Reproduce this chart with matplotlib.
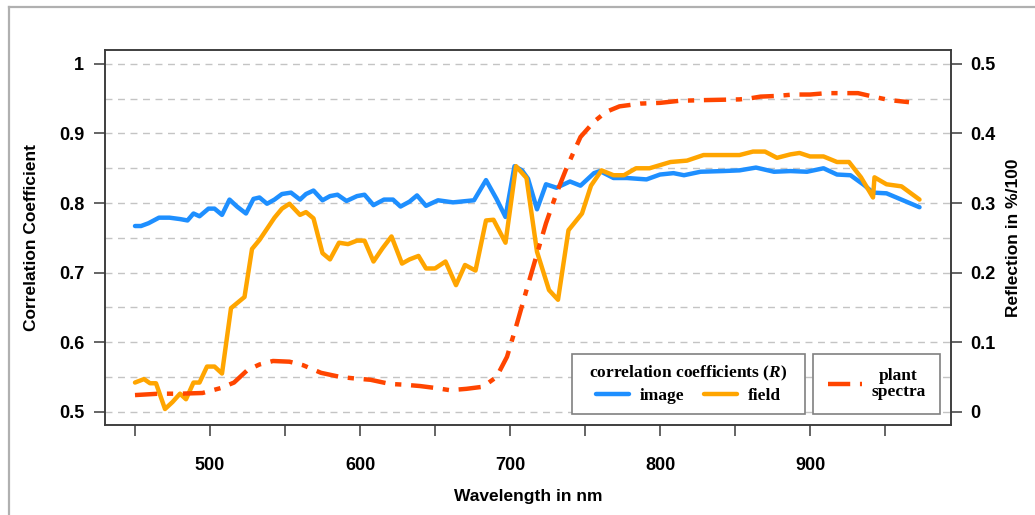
import matplotlib
matplotlib.use("Agg")
import matplotlib.pyplot as plt
import numpy as np
from matplotlib.lines import Line2D
from matplotlib.patches import Rectangle

plt.rcParams['font.family'] = ['Liberation Sans', 'DejaVu Sans']
plt.rcParams['mathtext.fontset'] = 'custom'
plt.rcParams['mathtext.it'] = 'Liberation Serif:italic:bold'
plt.rcParams['mathtext.rm'] = 'Liberation Serif:bold'
plt.rcParams['lines.scale_dashes'] = False

# correlation coefficient, image based
wl_image = [450, 454, 459, 466, 473, 480, 485, 489, 493, 499, 503, 508, 513, 518, 524,
            529, 533, 538, 543, 548, 554, 560, 564, 569, 575, 580, 585, 591, 598, 603,
            609, 616, 622, 627, 633, 638, 644, 652, 662, 676, 684, 691, 697, 703, 708,
            712, 718, 724, 731, 740, 747, 756, 760, 769, 778, 791, 800, 809, 816, 827,
            842, 853, 864, 876, 887, 898, 909, 918, 927, 936, 942, 951, 962, 973]
r_image = [0.767, 0.767, 0.771, 0.779, 0.779, 0.777, 0.775, 0.785, 0.781, 0.792, 0.792,
           0.783, 0.805, 0.795, 0.785, 0.806, 0.808, 0.799, 0.805, 0.813, 0.815, 0.805,
           0.813, 0.818, 0.804, 0.810, 0.812, 0.803, 0.810, 0.812, 0.797, 0.805, 0.805,
           0.795, 0.802, 0.811, 0.796, 0.804, 0.801, 0.804, 0.833, 0.806, 0.780, 0.853,
           0.847, 0.835, 0.791, 0.827, 0.822, 0.831, 0.825, 0.843, 0.846, 0.836, 0.836,
           0.834, 0.841, 0.843, 0.840, 0.845, 0.846, 0.847, 0.851, 0.845, 0.846, 0.845,
           0.850, 0.841, 0.840, 0.826, 0.815, 0.814, 0.804, 0.794]

# correlation coefficient, field based
wl_field = [450, 456, 460, 464, 470, 475, 480, 484, 489, 493, 498, 503, 508, 514, 523,
            528, 533, 538, 543, 548, 553, 560, 564, 569, 575, 580, 586, 592, 598, 603,
            609, 615, 621, 628, 633, 639, 644, 650, 657, 664, 670, 677, 684, 689, 697,
            704, 711, 718, 726, 732, 739, 748, 754, 761, 769, 776, 784, 793, 807, 818,
            829, 853, 862, 870, 878, 887, 893, 900, 909, 918, 926, 934, 942, 943, 951,
            961, 973]
r_field = [0.542, 0.547, 0.541, 0.541, 0.504, 0.514, 0.526, 0.518, 0.542, 0.542, 0.565,
           0.565, 0.555, 0.649, 0.665, 0.734, 0.747, 0.763, 0.779, 0.792, 0.799, 0.783,
           0.787, 0.778, 0.728, 0.719, 0.743, 0.741, 0.746, 0.746, 0.716, 0.735, 0.752,
           0.713, 0.719, 0.724, 0.706, 0.706, 0.716, 0.682, 0.711, 0.703, 0.775, 0.776,
           0.743, 0.853, 0.836, 0.730, 0.675, 0.661, 0.761, 0.785, 0.825, 0.847, 0.840,
           0.840, 0.850, 0.850, 0.859, 0.861, 0.869, 0.869, 0.874, 0.874, 0.865, 0.870,
           0.872, 0.867, 0.867, 0.859, 0.859, 0.837, 0.808, 0.837, 0.827, 0.824, 0.805]

# plant reflection spectrum (right axis)
wl_plant = [450, 466, 480, 495, 507, 516, 525, 533, 542, 553, 562, 574, 587, 596, 607,
            620, 629, 640, 651, 660, 671, 682, 691, 698, 704, 711, 718, 724, 731, 738,
            747, 756, 764, 773, 787, 800, 813, 830, 853, 860, 867, 878, 889, 900, 911,
            922, 932, 942, 953, 966]
refl_plant = [0.024, 0.026, 0.026, 0.027, 0.034, 0.042, 0.060, 0.068, 0.073, 0.072,
              0.067, 0.056, 0.050, 0.048, 0.046, 0.040, 0.039, 0.037, 0.034, 0.031,
              0.033, 0.036, 0.050, 0.079, 0.122, 0.175, 0.227, 0.271, 0.314, 0.352,
              0.395, 0.417, 0.431, 0.439, 0.443, 0.444, 0.447, 0.448, 0.449, 0.4505,
              0.453, 0.454, 0.456, 0.456, 0.458, 0.458, 0.458, 0.453, 0.448, 0.445]

x_ticks = [450, 500, 550, 600, 650, 700, 750, 800, 850, 900, 950]
x_labels = ['', '500', '', '600', '', '700', '', '800', '', '900', '']
left_ticks = [0.5, 0.6, 0.7, 0.8, 0.9, 1.0]
left_labels = ['0.5', '0.6', '0.7', '0.8', '0.9', '1']
right_ticks = [0.0, 0.1, 0.2, 0.3, 0.4, 0.5]
right_labels = ['0', '0.1', '0.2', '0.3', '0.4', '0.5']

W, H = 1035, 515
fig = plt.figure(figsize=(W / 100, H / 100), dpi=100)
ax = fig.add_axes([105 / W, 90 / H, 846 / W, 375 / H])

c_blue = '#1e8fff'
c_orange = '#ffa500'
c_red = '#ff4500'
frame_c = '#3a3a3a'

l_img, = ax.plot(wl_image, r_image, color=c_blue, lw=3.2, solid_capstyle='round',
                 solid_joinstyle='round', zorder=3)
l_fld, = ax.plot(wl_field, r_field, color=c_orange, lw=3.2, solid_capstyle='round',
                 solid_joinstyle='round', zorder=4)

ax.set_xlim(430, 994)
ax.set_ylim(0.481, 1.02)
ax.set_xticks(x_ticks)
ax.set_xticklabels(x_labels)
ax.set_yticks(left_ticks)
ax.set_yticklabels(left_labels)
ax.set_yticks(np.arange(0.55, 1.0, 0.1), minor=True)
ax.grid(axis='y', which='both', color='#c4c4c4', lw=1.0, ls=(0, (5, 4)), zorder=0)
ax.tick_params(axis='both', which='major', direction='out', length=8, width=1.1,
               color=frame_c, labelsize=13)
ax.tick_params(axis='y', which='minor', length=0)
ax.tick_params(axis='x', pad=15)
ax.tick_params(axis='y', pad=7)
for lab in ax.get_xticklabels() + ax.get_yticklabels():
    lab.set_fontweight('bold')

ax2 = ax.twinx()
lo, hi = ax.get_ylim()
ax2.set_ylim(lo - 0.5, hi - 0.5)
l_pl, = ax2.plot(wl_plant, refl_plant, color=c_red, lw=3.2, dash_capstyle='butt',
                 ls=(0, (16, 7, 4.5, 7)), zorder=3)
ax2.set_yticks(right_ticks)
ax2.set_yticklabels(right_labels)
ax2.tick_params(axis='y', direction='out', length=8, width=1.1, color=frame_c,
                labelsize=13, pad=6)
for lab in ax2.get_yticklabels():
    lab.set_fontweight('bold')

for a in (ax, ax2):
    for s in a.spines.values():
        s.set_color(frame_c)
        s.set_linewidth(1.1)

ax.set_ylabel('Correlation Coefficient', fontsize=12.5, fontweight='bold')
ax2.set_ylabel('Reflection in %/100', fontsize=12.5, fontweight='bold')
ax.set_xlabel('Wavelength in nm', fontsize=12.5, fontweight='bold')
ax.yaxis.label.set_va('center')
ax2.yaxis.label.set_va('center')
ax.xaxis.label.set_va('center')
ax.yaxis.set_label_coords((32 - 105) / 846, 0.5)
ax2.yaxis.set_label_coords((1013 - 105) / 846, 0.5)
ax.xaxis.set_label_coords(0.5, (425 - 497) / 375)

# legend boxes
def box(x0, y0, x1, y1):
    r = Rectangle((x0 / W, 1 - y1 / H), (x1 - x0) / W, (y1 - y0) / H,
                  transform=fig.transFigure, facecolor='white', edgecolor='#808080',
                  lw=1.2, zorder=4)
    fig.add_artist(r)

box(572, 354, 805, 414)
box(813, 354, 940, 414)

serif = {'family': 'Liberation Serif', 'weight': 'bold', 'size': 12.5}
leg1 = fig.legend([l_img, l_fld], ['image', 'field'], ncol=2, loc='center',
                  bbox_to_anchor=(688.5 / W, 1 - 384 / H), frameon=False, prop=serif,
                  title='correlation coefficients ($R$)', title_fontproperties=serif,
                  handlelength=1.9, handletextpad=0.6, columnspacing=1.15,
                  labelspacing=0.3, borderpad=0)
leg1.set_zorder(6)

leg2 = fig.legend([l_pl], ['plant\nspectra'], loc='center',
                  bbox_to_anchor=(876.5 / W, 1 - 384 / H), frameon=False, prop=serif,
                  handlelength=2.0, handletextpad=0.5, borderpad=0)
leg2.set_zorder(6)
for t in leg2.get_texts():
    t.set_multialignment('center')
    t.set_linespacing(1.0)

# outer figure frame (top and left only)
fig.add_artist(Line2D([9 / W, 1], [1 - 7 / H, 1 - 7 / H], transform=fig.transFigure,
                      color='#b0b0b0', lw=1.6))
fig.add_artist(Line2D([9 / W, 9 / W], [0, 1 - 7 / H], transform=fig.transFigure,
                      color='#b0b0b0', lw=1.6))

fig.savefig('out.png', dpi=100)
